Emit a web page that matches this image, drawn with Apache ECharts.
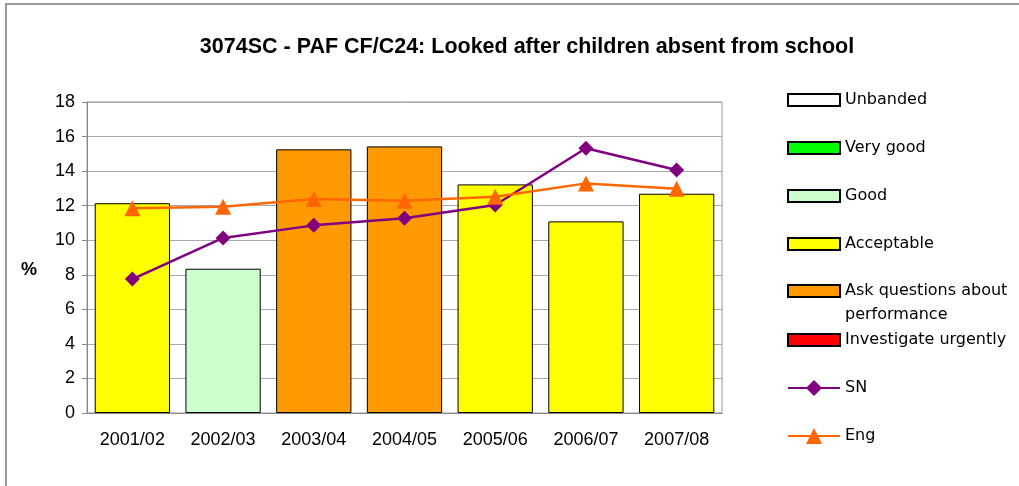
<!DOCTYPE html>
<html>
<head>
<meta charset="utf-8">
<script src="https://cdn.jsdelivr.net/npm/echarts@6/dist/echarts.min.js"></script>
<style>
  html, body { margin: 0; padding: 0; background: #fff; }
  #chart { width: 1019px; height: 486px; }
</style>
</head>
<body>
<div id="chart"></div>
<script>
// data
var years = ['2001/02', '2002/03', '2003/04', '2004/05', '2005/06', '2006/07', '2007/08'];
var indicator = [12.14, 8.35, 15.26, 15.43, 13.23, 11.09, 12.69];
var yearBand = ['Acceptable', 'Good', 'Ask questions about performance', 'Ask questions about performance', 'Acceptable', 'Acceptable', 'Acceptable'];
var snValues = [7.75, 10.13, 10.86, 11.27, 12.04, 15.32, 14.06];
var engValues = [11.85, 11.94, 12.38, 12.29, 12.52, 13.29, 12.98];
var bands = ['Unbanded', 'Very good', 'Good', 'Acceptable', 'Ask questions about performance', 'Investigate urgently'];
var bandColours = ['#FFFFFF', '#00FF00', '#CCFFCC', '#FFFF00', '#FF9900', '#FF0000'];
var yTicks = { min: 0, max: 18, interval: 2 };

var chart = echarts.init(document.getElementById('chart'));

// one stacked bar series per band, only the years in that band get a value
var barSeries = bands.map(function (b, i) {
  return {
    name: b,
    type: 'bar',
    stack: 'pi',
    barCategoryGap: '17%',
    itemStyle: { color: bandColours[i], borderColor: '#000', borderWidth: 1 },
    data: indicator.map(function (v, k) { return yearBand[k] === b ? v : null; })
  };
});

var legendText = { fontFamily: 'DejaVu Sans', fontSize: 16, color: '#000', lineHeight: 24 };
function legendBase(top, names, h) {
  return {
    orient: 'vertical', left: 787, top: top, padding: 0,
    itemWidth: 52, itemHeight: h || 12, itemGap: 24,
    textStyle: legendText,
    selectedMode: false,
    // long band name wraps; empty first line keeps the first line level with the icon
    formatter: function (n) {
      return n === bands[4] ? '\nAsk questions about\nperformance' : n;
    },
    data: names
  };
}

option = {
  animation: false,
  title: {
    text: '3074SC - PAF CF/C24: Looked after children absent from school',
    left: 522, top: 31, textAlign: 'center',
    textStyle: { fontFamily: 'Liberation Sans', fontWeight: 'bold', fontSize: 21.5, color: '#000' }
  },
  graphic: [{
    type: 'rect', silent: true, z: -10,
    shape: { x: 6, y: 4, width: 1200, height: 700 },
    style: { fill: 'none', stroke: '#999', lineWidth: 2 }
  }],
  legend: [
    legendBase(88, bands.slice(0, 4).map(function (n) { return { name: n, icon: 'rect' }; })),
    legendBase(255, [{ name: bands[4], icon: 'rect' }]),
    legendBase(328, [{ name: bands[5], icon: 'rect' }]),
    legendBase(376, ['SN', 'Eng'], 20)
  ],
  grid: { left: 87, right: 297, top: 102, bottom: 73, show: true, borderColor: '#999', borderWidth: 1 },
  xAxis: {
    type: 'category',
    data: years,
    axisLine: { lineStyle: { color: '#888' } },
    axisTick: { length: 6, lineStyle: { color: '#888' } },
    axisLabel: { fontFamily: 'Liberation Sans', fontSize: 18, color: '#000', margin: 18 }
  },
  yAxis: {
    type: 'value',
    min: yTicks.min, max: yTicks.max, interval: yTicks.interval,
    name: '\n%', nameLocation: 'middle', nameRotate: 0, nameGap: 50,
    nameTextStyle: { fontFamily: 'Liberation Sans', fontWeight: 'bold', fontSize: 18, color: '#000', lineHeight: 26 },
    axisLine: { show: true, lineStyle: { color: '#888' } },
    axisTick: { show: true, length: 5, lineStyle: { color: '#888' } },
    axisLabel: { fontFamily: 'Liberation Sans', fontSize: 18, color: '#000', margin: 12 },
    splitLine: { lineStyle: { color: '#aaa' } }
  },
  series: barSeries.concat([
    {
      name: 'SN', type: 'line', data: snValues,
      symbol: 'diamond', symbolSize: 15,
      lineStyle: { color: '#800080', width: 2.5 },
      itemStyle: { color: '#800080' }
    },
    {
      name: 'Eng', type: 'line', data: engValues,
      symbol: 'triangle', symbolSize: 16,
      lineStyle: { color: '#FF6600', width: 2.5 },
      itemStyle: { color: '#FF6600' }
    }
  ])
};
chart.setOption(option);
</script>
</body>
</html>
